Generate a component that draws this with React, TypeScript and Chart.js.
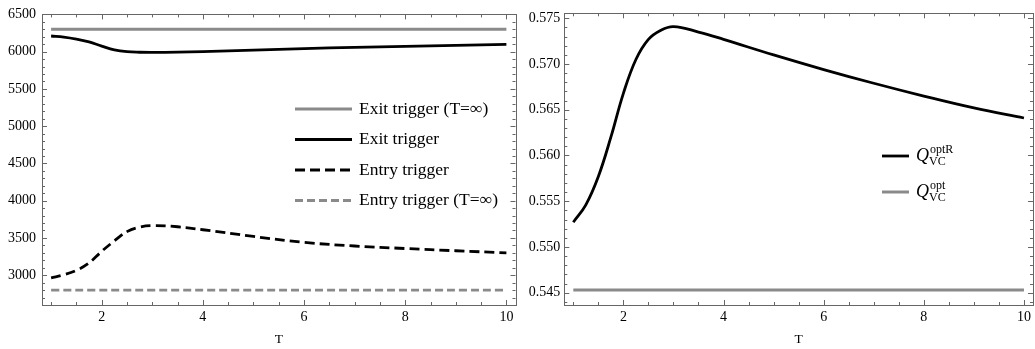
import React, { useEffect, useRef } from "react";
import { Chart, registerables } from "chart.js";

Chart.register(...registerables);

// ---------- data ----------
const T = [1, 1.25, 1.5, 1.75, 2, 2.25, 2.5, 2.75, 3, 3.5, 4, 5, 6, 7, 8, 9, 10];
const exitTrigger = [6210, 6195, 6168, 6130, 6075, 6025, 6000, 5992, 5990, 5993, 6000, 6020, 6040, 6058, 6072, 6085, 6097];
const entryTrigger = [2965, 3005, 3065, 3165, 3320, 3460, 3585, 3645, 3665, 3650, 3610, 3520, 3440, 3392, 3358, 3328, 3300];
const exitTriggerInf = 6300;
const entryTriggerInf = 2800;
const qOptR = [0.5527, 0.5546, 0.5577, 0.5620, 0.5668, 0.5705, 0.5727, 0.5737, 0.5741, 0.5735, 0.5727, 0.5710, 0.5694, 0.5679, 0.5665, 0.5652, 0.5641];
const qOpt = 0.5453;

const xMajor = [2, 4, 6, 8, 10];
const xMinor = [1, 1.5, 2.5, 3, 3.5, 4.5, 5, 5.5, 6.5, 7, 7.5, 8.5, 9, 9.5, 10];
const leftYMajor = [3000, 3500, 4000, 4500, 5000, 5500, 6000, 6500];
const leftYMinor = [2600, 2700, 2800, 2900, 3100, 3200, 3300, 3400, 3600, 3700, 3800, 3900, 4100, 4200, 4300, 4400, 4600, 4700, 4800, 4900, 5100, 5200, 5300, 5400, 5600, 5700, 5800, 5900, 6100, 6200, 6300, 6400];
const rightYMajor = [0.545, 0.55, 0.555, 0.56, 0.565, 0.57, 0.575];
const rightYMinor = [0.544, 0.546, 0.547, 0.548, 0.549, 0.551, 0.552, 0.553, 0.554, 0.556, 0.557, 0.558, 0.559, 0.561, 0.562, 0.563, 0.564, 0.566, 0.567, 0.568, 0.569, 0.571, 0.572, 0.573, 0.574];

const GRAY = "#8a8a8a";
const FRAME = "#666666";
const SERIF = "'Liberation Serif', 'DejaVu Serif', serif";

const pts = (ys: number[]) => T.map((t, i) => ({ x: t, y: ys[i] }));
const flat = (v: number) => [{ x: T[0], y: v }, { x: T[T.length - 1], y: v }];

// ---------- frame + legend plugin ----------
const framePlugin = {
  id: "frame",
  afterDraw(chart: any, _args: any, opts: any) {
    const { ctx, chartArea } = chart;
    const { left, right, top, bottom } = chartArea;
    const xs = chart.scales.x;
    const ys = chart.scales.y;
    ctx.save();
    ctx.strokeStyle = FRAME;
    ctx.lineWidth = 1;
    ctx.strokeRect(Math.round(left) + 0.5, Math.round(top) + 0.5, Math.round(right - left), Math.round(bottom - top));
    const line = (x1: number, y1: number, x2: number, y2: number) => {
      ctx.beginPath();
      ctx.moveTo(x1, y1);
      ctx.lineTo(x2, y2);
      ctx.stroke();
    };
    const drawX = (vals: number[], len: number) => {
      vals.forEach((v) => {
        const p = Math.round(xs.getPixelForValue(v)) + 0.5;
        line(p, bottom, p, bottom - len);
        line(p, top, p, top + len);
      });
    };
    const drawY = (vals: number[], len: number) => {
      vals.forEach((v) => {
        const p = Math.round(ys.getPixelForValue(v)) + 0.5;
        if (p < top - 1 || p > bottom + 1) return;
        line(left, p, left + len, p);
        line(right, p, right - len, p);
      });
    };
    drawX(opts.xMajor, 5);
    drawX(opts.xMinor, 3);
    drawY(opts.yMajor, 5);
    drawY(opts.yMinor, 3);

    // legend
    const lg = opts.legend;
    lg.items.forEach((it: any, i: number) => {
      const ds = chart.data.datasets[it.ds];
      const yy = lg.y + i * lg.dy;
      ctx.save();
      ctx.strokeStyle = ds.borderColor;
      ctx.lineWidth = ds.borderWidth;
      ctx.setLineDash(ds.borderDash || []);
      line(lg.x, yy, lg.x + lg.len, yy);
      ctx.restore();
      ctx.fillStyle = "#000";
      ctx.textBaseline = "middle";
      const tx = lg.x + lg.len + lg.gap;
      if (it.q) {
        ctx.font = `italic 18px ${SERIF}`;
        ctx.textBaseline = "alphabetic";
        const base = yy + 5;
        ctx.fillText("Q", tx, base);
        const w = ctx.measureText("Q").width + 1;
        ctx.font = `12px ${SERIF}`;
        ctx.fillText(it.sup, tx + w, base - 8);
        ctx.fillText("VC", tx + w - 1, base + 4);
      } else {
        ctx.font = `17.5px ${SERIF}`;
        ctx.fillText(it.text, tx, yy);
      }
    });
    ctx.restore();
  },
};

function makeOptions(cfg: any) {
  const font = { family: SERIF, size: 14 };
  return {
    animation: false,
    responsive: false,
    maintainAspectRatio: false,
    events: [],
    layout: { padding: { top: cfg.top, right: cfg.right, left: 0, bottom: 0 } },
    plugins: {
      legend: { display: false },
      tooltip: { enabled: false },
      frame: cfg.frame,
    },
    scales: {
      x: {
        type: "linear",
        min: 0.82,
        max: 10.18,
        grid: { display: false, drawTicks: false },
        border: { display: false },
        afterBuildTicks: (s: any) => {
          s.ticks = xMajor.map((v) => ({ value: v }));
        },
        ticks: { padding: 4, font, color: "#000", maxRotation: 0, autoSkip: false, callback: (v: any) => String(v) },
        title: { display: true, text: "T", font: { family: SERIF, size: 13.5 }, color: "#000", padding: { top: 0, bottom: 1 } },
        afterFit: (s: any) => {
          s.height = 44;
        },
      },
      y: {
        type: "linear",
        min: cfg.ymin,
        max: cfg.ymax,
        grid: { display: false, drawTicks: false },
        border: { display: false },
        afterBuildTicks: (s: any) => {
          s.ticks = cfg.yMajor.map((v: number) => ({ value: v }));
        },
        ticks: { padding: cfg.ypad, font, color: "#000", autoSkip: false, callback: cfg.fmt },
        afterFit: (s: any) => {
          s.width = cfg.yWidth;
        },
      },
    },
  };
}

export default function App() {
  const leftRef = useRef<HTMLCanvasElement | null>(null);
  const rightRef = useRef<HTMLCanvasElement | null>(null);

  useEffect(() => {
    const base = { pointRadius: 0, fill: false, tension: 0.4 };
    const left = new Chart(leftRef.current as HTMLCanvasElement, {
      type: "line",
      data: {
        datasets: [
          { ...base, label: "Exit trigger (T=∞)", data: flat(exitTriggerInf), borderColor: GRAY, borderWidth: 3 },
          { ...base, label: "Exit trigger", data: pts(exitTrigger), borderColor: "#000", borderWidth: 2.8 },
          { ...base, label: "Entry trigger", data: pts(entryTrigger), borderColor: "#000", borderWidth: 2.8, borderDash: [10, 5] },
          { ...base, label: "Entry trigger (T=∞)", data: flat(entryTriggerInf), borderColor: GRAY, borderWidth: 2.8, borderDash: [8, 4] },
        ],
      } as any,
      options: makeOptions({
        top: 12,
        right: 6.5,
        ymin: 2600,
        ymax: 6500,
        yMajor: leftYMajor,
        ypad: 6,
        yWidth: 42,
        fmt: (v: any) => String(v),
        frame: {
          xMajor,
          xMinor,
          yMajor: leftYMajor,
          yMinor: leftYMinor,
          legend: {
            x: 295,
            y: 109,
            dy: 30.5,
            len: 57,
            gap: 7,
            items: [
              { ds: 0, text: "Exit trigger (T=∞)" },
              { ds: 1, text: "Exit trigger" },
              { ds: 2, text: "Entry trigger" },
              { ds: 3, text: "Entry trigger (T=∞)" },
            ],
          },
        },
      }) as any,
      plugins: [framePlugin],
    });

    const right = new Chart(rightRef.current as HTMLCanvasElement, {
      type: "line",
      data: {
        datasets: [
          { ...base, label: "QoptR", data: pts(qOptR), borderColor: "#000", borderWidth: 2.8 },
          { ...base, label: "Qopt", data: flat(qOpt), borderColor: GRAY, borderWidth: 3 },
        ],
      } as any,
      options: makeOptions({
        top: 13.3,
        right: 2,
        ymin: 0.54365,
        ymax: 0.57555,
        yMajor: rightYMajor,
        ypad: 4,
        yWidth: 42.3,
        fmt: (v: any) => Number(v).toFixed(3),
        frame: {
          xMajor,
          xMinor,
          yMajor: rightYMajor,
          yMinor: rightYMinor,
          legend: {
            x: 360,
            y: 156,
            dy: 36,
            len: 27,
            gap: 7,
            items: [
              { ds: 0, q: true, sup: "optR" },
              { ds: 1, q: true, sup: "opt" },
            ],
          },
        },
      }) as any,
      plugins: [framePlugin],
    });

    return () => {
      left.destroy();
      right.destroy();
    };
  }, []);

  return (
    <div style={{ position: "absolute", left: 0, top: 0, width: 1035, height: 349, background: "#fff", display: "flex" }}>
      <canvas ref={leftRef} width={522} height={349} style={{ width: 522, height: 349, display: "block" }} />
      <canvas ref={rightRef} width={513} height={349} style={{ width: 513, height: 349, display: "block" }} />
    </div>
  );
}
